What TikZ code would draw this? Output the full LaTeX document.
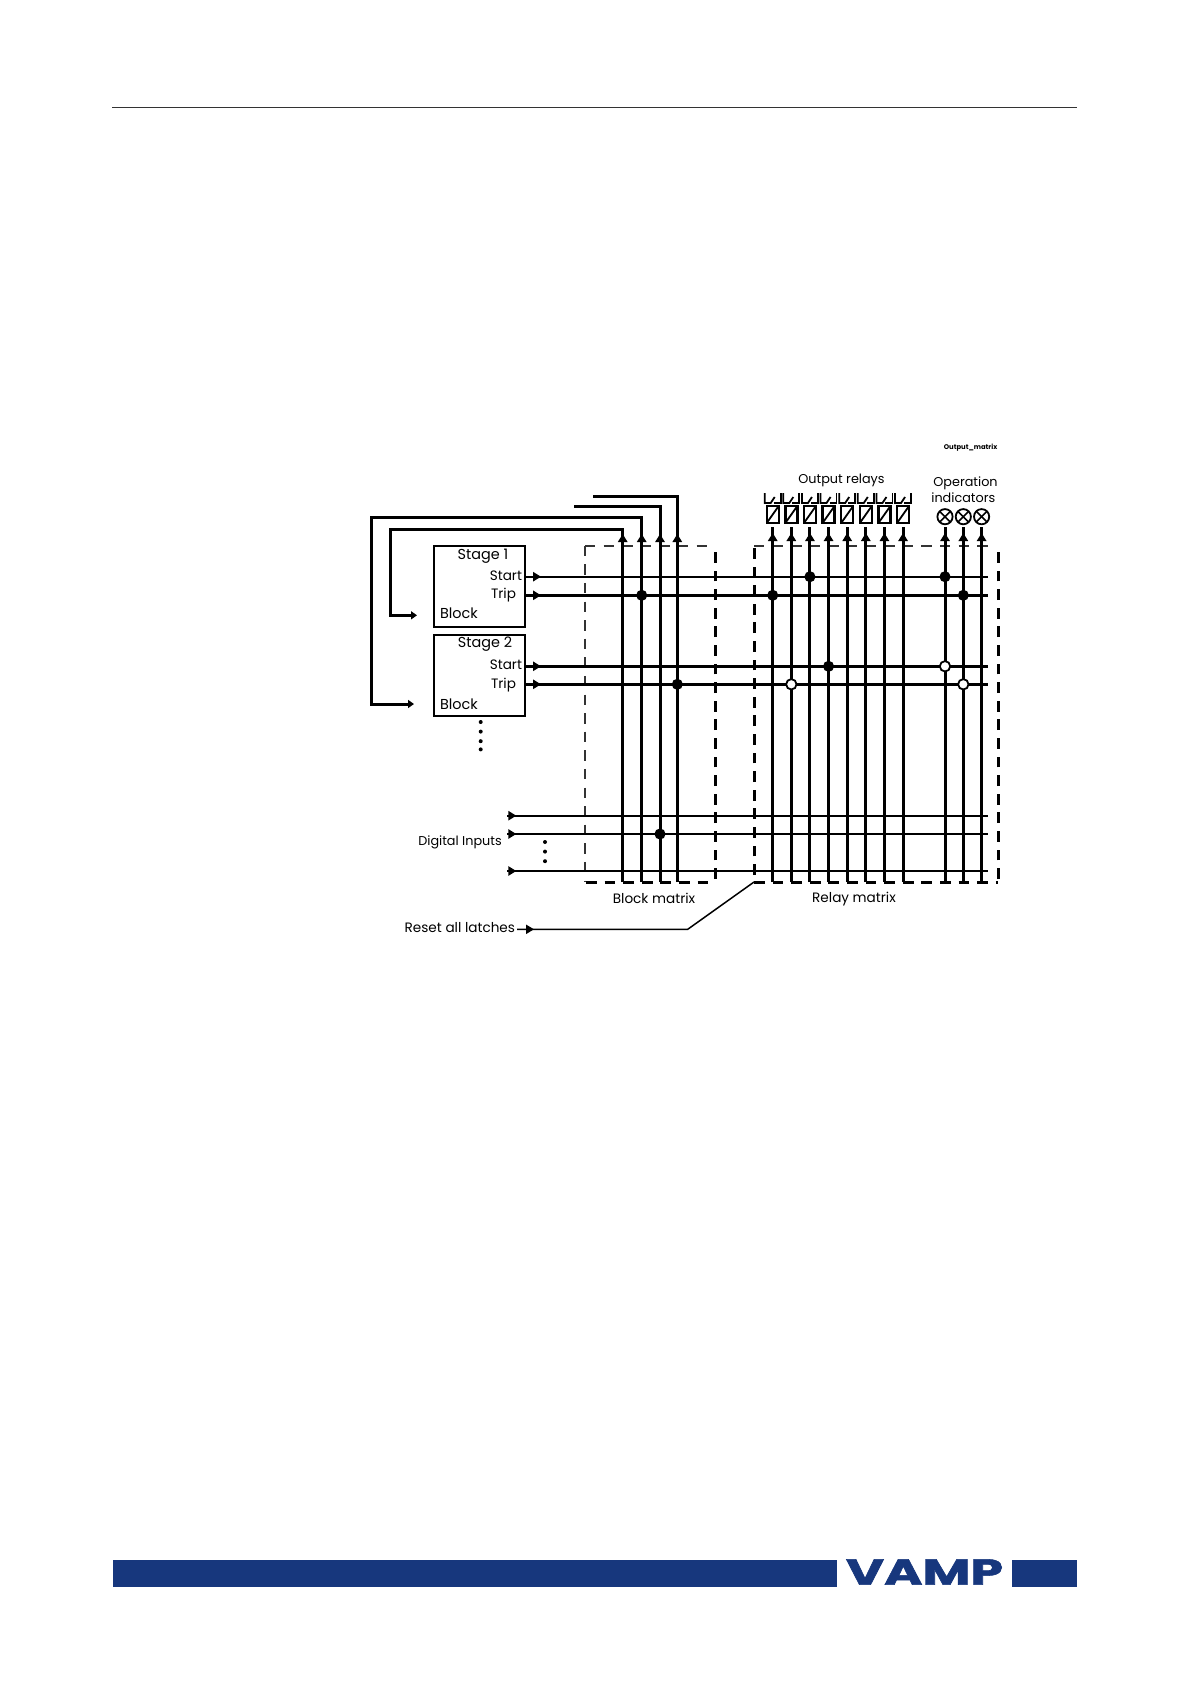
\documentclass[tikz,border=0pt]{standalone}
\usepackage{fontspec}
\setmainfont{Poppins}
\newfontfamily\logofont[BoldFeatures={FakeBold=1.5}]{Poppins}
\usetikzlibrary{arrows.meta, positioning, calc, decorations.markings}
\definecolor{vampblue}{RGB}{23,55,125}
\tikzset{
  stagebox/.style={
    rectangle, draw, line width=1.2pt,
    minimum width=45.6pt, minimum height=40.5pt, inner sep=0pt, outer sep=0pt
  },
  label/.style={font=\fontsize{7.2}{8}\selectfont, inner sep=0pt, outer sep=0pt},
  midlabel/.style={font=\fontsize{6.8}{8}\selectfont, inner sep=0pt, outer sep=0pt},
  smalllabel/.style={font=\fontsize{6.4}{8}\selectfont, inner sep=0pt, outer sep=0pt},
  tinylabel/.style={font=\fontsize{3.4}{4}\selectfont\bfseries, inner sep=0pt},
  coil/.style={
    rectangle, draw, line width=1.2pt,
    minimum width=6pt, minimum height=8.5pt, inner sep=0pt, outer sep=0pt,
    path picture={\draw[line width=0.9pt] (path picture bounding box.south west)
      -- (path picture bounding box.north east);}
  },
  lamp/.style={
    circle, draw, line width=0.9pt,
    minimum size=7.6pt, inner sep=0pt, outer sep=0pt,
    path picture={
      \draw[line width=0.8pt] (path picture bounding box.south west)
        -- (path picture bounding box.north east);
      \draw[line width=0.8pt] (path picture bounding box.north west)
        -- (path picture bounding box.south east);}
  },
  junction/.style={circle, fill=black, draw=black, line width=0.7pt,
    minimum size=4.8pt, inner sep=0pt},
  openjunction/.style={circle, fill=white, draw=black, line width=0.9pt,
    minimum size=5.2pt, inner sep=0pt},
  smalldot/.style={circle, fill=black, minimum size=2pt, inner sep=0pt, outer sep=0pt},
  tipat/.style={
    postaction={decorate},
    decoration={markings, mark=at position #1 with
      {\arrow{Triangle[length=4pt,width=4.6pt]}}}
  },
  vwire/.style={line width=1.5pt},
  hwire/.style={line width=1.2pt},
  feedback/.style={line width=1.5pt, -{Triangle[length=3pt,width=4pt]}},
  thickdash/.style={line width=1.5pt, dash pattern=on 5.4pt off 3.9pt},
  thindash/.style={line width=1.2pt, draw=black!80, dash pattern=on 5.2pt off 4.1pt},
  contact/.pic={
    \draw[line width=0.9pt] (-8,-13) -- (-8,-3) -- (-2,-3) -- (2,-9);
    \draw[line width=0.9pt] (1,-3) -- (8,-3) -- (8,-13);
  }
}

\begin{document}
\begin{tikzpicture}[x=0.5pt, y=-0.5pt]
\useasboundingbox (0,0) rectangle (1191,1684);

% ═══════════════════════════════════════════════════════════════════
% PAGE FURNITURE
% ═══════════════════════════════════════════════════════════════════
\draw[line width=0.6pt, black!80] (112,107.4) -- (1077,107.4);
\fill[vampblue] (113,1560) rectangle (837,1587);
\fill[vampblue] (1012,1560) rectangle (1077,1587);
\node[text=vampblue, font=\fontsize{18}{18}\logofont\bfseries,
      transform shape, xscale=1.45, inner sep=0pt]
  (logo) at (924.5,1572) {VAMP};

% ═══════════════════════════════════════════════════════════════════
% STAGES
% ═══════════════════════════════════════════════════════════════════
\node[stagebox, anchor=north west] (stage1) at (433.7,545.7) {};
\node[stagebox, below=4pt of stage1] (stage2) {};

\node[label] (stage1name) at (483,556) {Stage 1};
\node[midlabel, anchor=east] (start1name) at (522,576) {Start};
\node[midlabel, anchor=west] (trip1name) at (491,595) {Trip};
\node[label, anchor=west] (block1name) at (440,613) {Block};

\node[label] (stage2name) at (485,644) {Stage 2};
\node[midlabel, anchor=east] (start2name) at (522,665) {Start};
\node[midlabel, anchor=west] (trip2name) at (491,685) {Trip};
\node[label, anchor=west] (block2name) at (440,704) {Block};

\node[smalldot] (more1) at (480.7,722) {};
\node[smalldot, below=2.8pt of more1] (more2) {};
\node[smalldot, below=2.8pt of more2] (more3) {};
\node[smalldot, below=2.1pt of more3] (more4) {};

% ═══════════════════════════════════════════════════════════════════
% OUTPUT RELAYS AND INDICATORS
% ═══════════════════════════════════════════════════════════════════
\node[coil] (relay1) at (772.7,514.5) {};
\node[coil, right=3.31pt of relay1] (relay2) {};
\node[coil, right=3.31pt of relay2] (relay3) {};
\node[coil, right=3.31pt of relay3] (relay4) {};
\node[coil, right=3.31pt of relay4] (relay5) {};
\node[coil, right=3.31pt of relay5] (relay6) {};
\node[coil, right=3.31pt of relay6] (relay7) {};
\node[coil, right=3.31pt of relay7] (relay8) {};

\path (relay1.north) pic {contact};
\path (relay2.north) pic {contact};
\path (relay3.north) pic {contact};
\path (relay4.north) pic {contact};
\path (relay5.north) pic {contact};
\path (relay6.north) pic {contact};
\path (relay7.north) pic {contact};
\path (relay8.north) pic {contact};

\node[lamp] (lamp1) at (945,516.7) {};
\node[lamp, right=1.55pt of lamp1] (lamp2) {};
\node[lamp, right=1.55pt of lamp2] (lamp3) {};

\node[smalllabel] (relaytitle) at (841.5,480) {Output relays};
\node[smalllabel] (lamptitle1) at (965.5,483) {Operation};
\node[smalllabel] (lamptitle2) at (963.3,498) {indicators};
\node[tinylabel] (figname) at (970.6,448) {Output\_matrix};

% ═══════════════════════════════════════════════════════════════════
% ANCHOR POINTS OF THE WIRING
% ═══════════════════════════════════════════════════════════════════
\coordinate (floor) at (0,882);
\coordinate (rail) at (987.7,0);

\coordinate (bk1) at (622.7,882);
\coordinate (bk2) at (641.7,882);
\coordinate (bk3) at (660,882);
\coordinate (bk4) at (677.3,882);

\coordinate (start1) at (526,576.7);
\coordinate (trip1) at (526,595.3);
\coordinate (start2) at (526,666.3);
\coordinate (trip2) at (526,684.3);

\coordinate (input1) at (507.3,815.7);
\coordinate (input2) at (507.3,834);
\coordinate (input3) at (507.3,871);

\coordinate (fb1) at (390,529);
\coordinate (fb2) at (371.7,517.7);
\coordinate (block1) at (417,615.3);
\coordinate (block2) at (414,704);
\coordinate (bk3end) at (574,506.7);
\coordinate (bk4end) at (593,496);

% ═══════════════════════════════════════════════════════════════════
% DASHED MATRIX FRAMES
% ═══════════════════════════════════════════════════════════════════
\coordinate (blockNW) at (585,545.7);
\coordinate (blockSW) at (585,882);
\coordinate (blockNE) at (715,545.7);
\coordinate (blockSE) at (715,882);
\coordinate (relayNW) at (754,546);
\coordinate (relaySW) at (754,882);
\coordinate (relayNE) at (998,546);
\coordinate (relaySE) at (998,882);

\draw[thindash] (blockNW) -- (blockSW);
\draw[thindash] (blockNW) -- (blockNE);
\draw[thickdash] (blockSE) ++(0,-3) -- ($(blockNE)+(0,4)$);
\draw[thickdash] (blockSW) ++(1,0) -- (blockSE);

\draw[thickdash] (relaySW) ++(0,-7) -- (relayNW);
\draw[thindash] (relayNW) -- ($(relayNE)+(-5,0)$);
\draw[thickdash] (relaySE) ++(0,-3) -- ($(relayNE)+(0,1)$);
\draw[thickdash] (relaySW) -- (relaySE);

% ═══════════════════════════════════════════════════════════════════
% VERTICAL WIRES
% ═══════════════════════════════════════════════════════════════════

% Block matrix, fed back to the stages
\draw[feedback, tipat=174pt] (bk1) |- (fb1) |- (block1);
\draw[feedback, tipat=174pt] (bk2) |- (fb2) |- (block2);
\draw[vwire, tipat=174pt] (bk3) |- (bk3end);
\draw[vwire, tipat=174pt] (bk4) |- (bk4end);

% Relay matrix
\draw[vwire, tipat=174.5pt] (relay1 |- floor) -- ($(relay1.south)+(0,4)$);
\draw[vwire, tipat=174.5pt] (relay2 |- floor) -- ($(relay2.south)+(0,4)$);
\draw[vwire, tipat=174.5pt] (relay3 |- floor) -- ($(relay3.south)+(0,4)$);
\draw[vwire, tipat=174.5pt] (relay4 |- floor) -- ($(relay4.south)+(0,4)$);
\draw[vwire, tipat=174.5pt] (relay5 |- floor) -- ($(relay5.south)+(0,4)$);
\draw[vwire, tipat=174.5pt] (relay6 |- floor) -- ($(relay6.south)+(0,4)$);
\draw[vwire, tipat=174.5pt] (relay7 |- floor) -- ($(relay7.south)+(0,4)$);
\draw[vwire, tipat=174.5pt] (relay8 |- floor) -- ($(relay8.south)+(0,4)$);

% Operation indicators
\draw[vwire, tipat=174.5pt] (lamp1 |- floor) -- ($(lamp1.south)+(0,3)$);
\draw[vwire, tipat=174.5pt] (lamp2 |- floor) -- ($(lamp2.south)+(0,3)$);
\draw[vwire, tipat=174.5pt] (lamp3 |- floor) -- ($(lamp3.south)+(0,3)$);

% ═══════════════════════════════════════════════════════════════════
% HORIZONTAL WIRES
% ═══════════════════════════════════════════════════════════════════
\draw[hwire, tipat=7.5pt] (start1) -- (start1 -| rail);
\draw[hwire, tipat=7.5pt] (trip1) -- (trip1 -| rail);
\draw[hwire, tipat=7.5pt] (start2) -- (start2 -| rail);
\draw[hwire, tipat=7.5pt] (trip2) -- (trip2 -| rail);

\draw[line width=1pt, tipat=4.5pt] (input1) -- (input1 -| rail);
\draw[hwire, tipat=4.5pt] (input2) -- (input2 -| rail);
\draw[line width=1.3pt, tipat=4.5pt] (input3) -- (input3 -| rail);

\node[smalllabel, anchor=east] (inputs) at (501.7,842) {Digital Inputs};
\node[smalldot] (inputdot1) at (545,842) {};
\node[smalldot, below=2.8pt of inputdot1] (inputdot2) {};
\node[smalldot, below=2.8pt of inputdot2] (inputdot3) {};

% ═══════════════════════════════════════════════════════════════════
% JUNCTIONS
% ═══════════════════════════════════════════════════════════════════
\node[junction] (j1) at (bk2 |- trip1) {};
\node[junction] (j2) at (bk4 |- trip2) {};
\node[junction] (j3) at (bk3 |- input2) {};
\node[junction] (j4) at (relay1 |- trip1) {};
\node[junction] (j5) at (relay3 |- start1) {};
\node[junction] (j6) at (relay4 |- start2) {};
\node[junction] (j7) at (lamp1 |- start1) {};
\node[junction] (j8) at (lamp2 |- trip1) {};
\node[openjunction] (o1) at (relay2 |- trip2) {};
\node[openjunction] (o2) at (lamp1 |- start2) {};
\node[openjunction] (o3) at (lamp2 |- trip2) {};

% ═══════════════════════════════════════════════════════════════════
% MATRIX NAMES AND LATCH RESET
% ═══════════════════════════════════════════════════════════════════
\node[midlabel] (blockname) at (654,898) {Block matrix};
\node[midlabel] (relayname) at (854,899) {Relay matrix};

\node[midlabel, anchor=east, inner xsep=1pt] (reset) at (517,928) {Reset all latches};
\coordinate (resetbend) at (687.7,929.3);
\draw[line width=0.75pt, tipat=8.5pt] (reset.east |- resetbend) -- (resetbend) -- (relaySW);

\end{tikzpicture}
\end{document}
